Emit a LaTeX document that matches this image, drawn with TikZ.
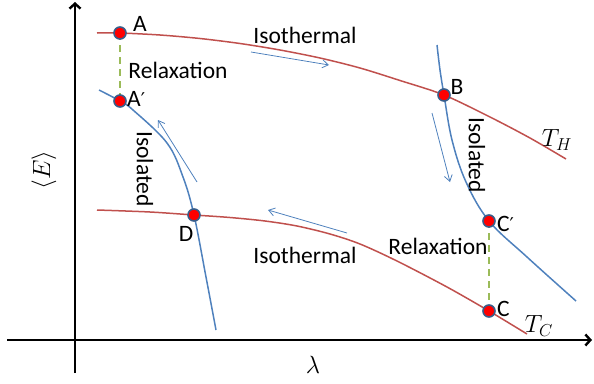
\documentclass[tikz,border=0pt]{standalone}
\usepackage{fontspec}
\setmainfont{Carlito}
\newfontfamily\primefont{DejaVu Sans}
\usetikzlibrary{arrows.meta}
\definecolor{hotred}{HTML}{C0504D}
\definecolor{isoblue}{HTML}{4F81BD}
\definecolor{dotedge}{HTML}{385D8A}
\definecolor{relaxgreen}{HTML}{9BBB59}
\tikzset{
  axisline/.style={line width=2.4pt,black,-{Straight Barb[length=5pt,width=11pt,line width=2.4pt]}},
  isotherm/.style={line width=1.5pt,hotred},
  adiabat/.style={line width=1.5pt,isoblue},
  relax/.style={line width=2.6pt,relaxgreen,dash pattern=on 7pt off 5pt},
  flow/.style={line width=0.8pt,isoblue,-{Straight Barb[length=6pt,width=8pt,line width=0.8pt]}},
  statedot/.style={circle,fill=red,draw=dotedge,line width=1.6pt,minimum size=12pt,inner sep=0pt},
  lbl/.style={font=\fontsize{23.5}{26}\selectfont,inner sep=0pt},
  mlbl/.style={font=\fontsize{23}{26}\selectfont,inner sep=0pt}
}
\newcommand{\pr}{{\primefont\fontsize{19}{22}\selectfont ′}}
\begin{document}
\begin{tikzpicture}[x=1pt,y=-1pt]
\useasboundingbox (0,0) rectangle (594,383);
% axes
\coordinate (xs) at (7,340);
\coordinate (xe) at (592,340);
\coordinate (ys) at (75,373);
\coordinate (ye) at (75,2);
\draw[axisline] (xs) -- (xe);
\draw[axisline] (ys) -- (ye);
% state points
\coordinate (A) at (120,33);
\coordinate (Ap) at (120,101);
\coordinate (B) at (444,95);
\coordinate (Cp) at (489,221);
\coordinate (C) at (489,311);
\coordinate (D) at (194,215);
% isotherms
\draw[isotherm] plot[smooth,tension=0.5] coordinates {(97,33) (A) (160,35) (200,38.5) (240,43.5) (280,50) (320,58) (360,68) (400,80.5) (B) (490,117) (530,138) (566,159)};
\draw[isotherm] plot[smooth,tension=0.5] coordinates {(97,210) (150,212) (D) (230,217.5) (265,221) (297,226) (330,234) (360,244) (397,261) (447,287) (C) (527,334)};
% adiabats
\draw[adiabat] plot[smooth,tension=0.6] coordinates {(99,90) (Ap) (133,110) (167,143) (183,177) (D) (206,277) (216,330)};
\draw[adiabat] plot[smooth,tension=0.6] coordinates {(437,45) (440,70) (B) (452,140) (466,182) (Cp) (527,257) (576,301)};
% relaxation
\draw[relax] (A) -- (Ap);
\draw[relax] (Cp) -- (C);
% dots
\node[statedot] (nA) at (A) {};
\node[statedot] (nAp) at (Ap) {};
\node[statedot] (nB) at (B) {};
\node[statedot] (nCp) at (Cp) {};
\node[statedot] (nC) at (C) {};
\node[statedot] (nD) at (D) {};
% flow arrows
\coordinate (f1s) at (251,52); \coordinate (f1e) at (329,65);
\coordinate (f2s) at (432,113); \coordinate (f2e) at (450,182);
\coordinate (f3s) at (347,233); \coordinate (f3e) at (268,210);
\coordinate (f4s) at (197,182); \coordinate (f4e) at (158,120);
\draw[flow] (f1s) -- (f1e);
\draw[flow] (f2s) -- (f2e);
\draw[flow] (f3s) -- (f3e);
\draw[flow] (f4s) -- (f4e);
% labels
\node[lbl] (tA) at (140,24) {A};
\node[lbl,anchor=west] (tAp) at (127,99) {A\pr};
\node[lbl] (tB) at (457,87) {B};
\node[lbl,anchor=west] (tCp) at (497,224) {C\pr};
\node[lbl,anchor=west] (tC) at (497,309) {C};
\node[lbl] (tD) at (186,234) {D};
\node[lbl] (rel1) at (178,70) {Relaxation};
\node[lbl] (iso1) at (305,35) {Isothermal};
\node[lbl,rotate=-90] (ad1) at (145,169) {Isolated};
\node[lbl,rotate=-90] (ad2) at (477,155) {Isolated};
\node[lbl] (iso2) at (305,255) {Isothermal};
\node[lbl] (rel2) at (438,246) {Relaxation};
\node[mlbl] (TH) at (557,140) {$T_H$};
\node[mlbl] (TC) at (539,326) {$T_C$};
\node[mlbl,rotate=90] (Eax) at (44,170) {$\langle E\rangle$};
\node[mlbl] (lam) at (313,365) {$\lambda$};
\end{tikzpicture}
\end{document}
